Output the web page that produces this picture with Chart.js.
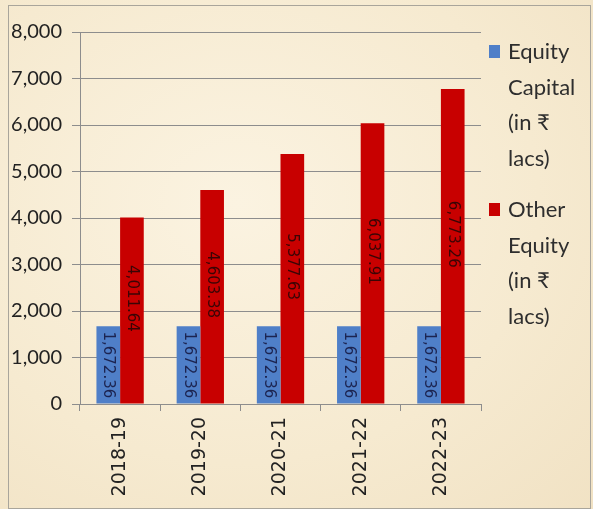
<!DOCTYPE html>
<html>
<head>
  <meta charset="UTF-8">
  <title>Equity Capital and Other Equity</title>
  <script src="https://cdn.jsdelivr.net/npm/chart.js"></script>
  <style>
    html, body { margin: 0; padding: 0; }
    body {
      width: 593px; height: 509px; overflow: hidden;
      background: radial-gradient(ellipse at 40% 40%, #fbf3e1 0%, #f6ead0 60%, #f1e2c4 100%);
    }
    #wrap { position: relative; width: 593px; height: 509px; }
  </style>
</head>
<body>
<div id="wrap"><canvas id="equityChart" width="593" height="509"></canvas></div>

<script>
  // years on the x axis
  var years = ['2018-19', '2019-20', '2020-21', '2021-22', '2022-23'];
  // values in lacs
  var equityCapital = [1672.36, 1672.36, 1672.36, 1672.36, 1672.36];
  var otherEquity = [4011.64, 4603.38, 5377.63, 6037.91, 6773.26];
  var seriesNames = ['Equity Capital (in ₹ lacs)', 'Other Equity (in ₹ lacs)'];
  var seriesColors = ['#4f7fc8', '#c80000'];
  var yTicks = [0, 1000, 2000, 3000, 4000, 5000, 6000, 7000, 8000];

  function fmt(v) {
    return v.toLocaleString('en-US', { minimumFractionDigits: 2, maximumFractionDigits: 2 });
  }

  // outer frame
  var framePlugin = {
    id: 'frame',
    beforeDraw: function(chart) {
      var ctx = chart.ctx;
      ctx.save();
      ctx.strokeStyle = '#a9a59b';
      ctx.lineWidth = 1;
      ctx.strokeRect(8.5, 5.5, 582, 503);
      ctx.restore();
    }
  };

  // value labels, rotated, inside the bars
  var barLabels = {
    id: 'barLabels',
    afterDatasetsDraw: function(chart) {
      var ctx = chart.ctx;
      chart.data.datasets.forEach(function(ds, i) {
        var meta = chart.getDatasetMeta(i);
        meta.data.forEach(function(bar, j) {
          var cy = (bar.y + bar.base) / 2 + (i === 1 ? -12 : 0);
          ctx.save();
          ctx.translate(bar.x, cy);
          ctx.rotate(Math.PI / 2);
          ctx.font = '15px "DejaVu Sans"';
          ctx.fillStyle = i === 0 ? '#1c2450' : '#3a0505';
          ctx.textAlign = 'center';
          ctx.textBaseline = 'middle';
          ctx.fillText(fmt(ds.data[j]), 0, 0);
          ctx.restore();
        });
      });
    }
  };

  // legend on the right with wrapped text
  var sideLegend = {
    id: 'sideLegend',
    afterDraw: function(chart) {
      var ctx = chart.ctx;
      var x = 489, y = 52, lineH = 35.5, maxW = 78;
      ctx.save();
      ctx.font = '22px Lato';
      ctx.textBaseline = 'middle';
      chart.data.datasets.forEach(function(ds) {
        var words = ds.label.split(' ');
        var lines = [], cur = '';
        words.forEach(function(w) {
          var t = cur ? cur + ' ' + w : w;
          if (cur && ctx.measureText(t).width > maxW) { lines.push(cur); cur = w; }
          else cur = t;
        });
        if (cur) lines.push(cur);
        ctx.fillStyle = ds.backgroundColor;
        ctx.fillRect(x, y - 7, 11, 13);
        ctx.fillStyle = '#2e2e2e';
        lines.forEach(function(l, k) {
          ctx.fillText(l, x + 19, y + k * lineH);
        });
        y += lines.length * lineH + 16;
      });
      ctx.restore();
    }
  };

  var ctx = document.getElementById('equityChart').getContext('2d');
  var equityChart = new Chart(ctx, {
    type: 'bar',
    data: {
      labels: years,
      datasets: [{
        label: seriesNames[0],
        data: equityCapital,
        backgroundColor: seriesColors[0],
        categoryPercentage: 0.59,
        barPercentage: 1
      }, {
        label: seriesNames[1],
        data: otherEquity,
        backgroundColor: seriesColors[1],
        categoryPercentage: 0.59,
        barPercentage: 1
      }]
    },
    options: {
      responsive: false,
      animation: false,
      layout: { padding: { left: 0, right: 112, top: 32, bottom: 0 } },
      plugins: {
        legend: { display: false },
        tooltip: { enabled: false }
      },
      scales: {
        y: {
          min: 0,
          max: 8000,
          afterFit: function(scale) { scale.width = 80; },
          afterBuildTicks: function(scale) {
            scale.ticks = yTicks.map(function(v) { return { value: v }; });
          },
          ticks: {
            color: '#222',
            padding: 10,
            font: { family: 'Lato', size: 20 },
            callback: function(v) { return v.toLocaleString('en-US'); }
          },
          grid: { color: '#8d8d8d', tickLength: 8, lineWidth: 1 },
          border: { color: '#8d8d8d' }
        },
        x: {
          afterFit: function(scale) { scale.height = 105; },
          ticks: {
            color: '#222',
            minRotation: 90,
            maxRotation: 90,
            padding: 6,
            font: { family: '"DejaVu Sans"', size: 19 }
          },
          grid: { color: '#8d8d8d', drawOnChartArea: false, tickLength: 7, offset: true },
          border: { color: '#8d8d8d' }
        }
      }
    },
    plugins: [framePlugin, barLabels, sideLegend]
  });
</script>
</body>
</html>
